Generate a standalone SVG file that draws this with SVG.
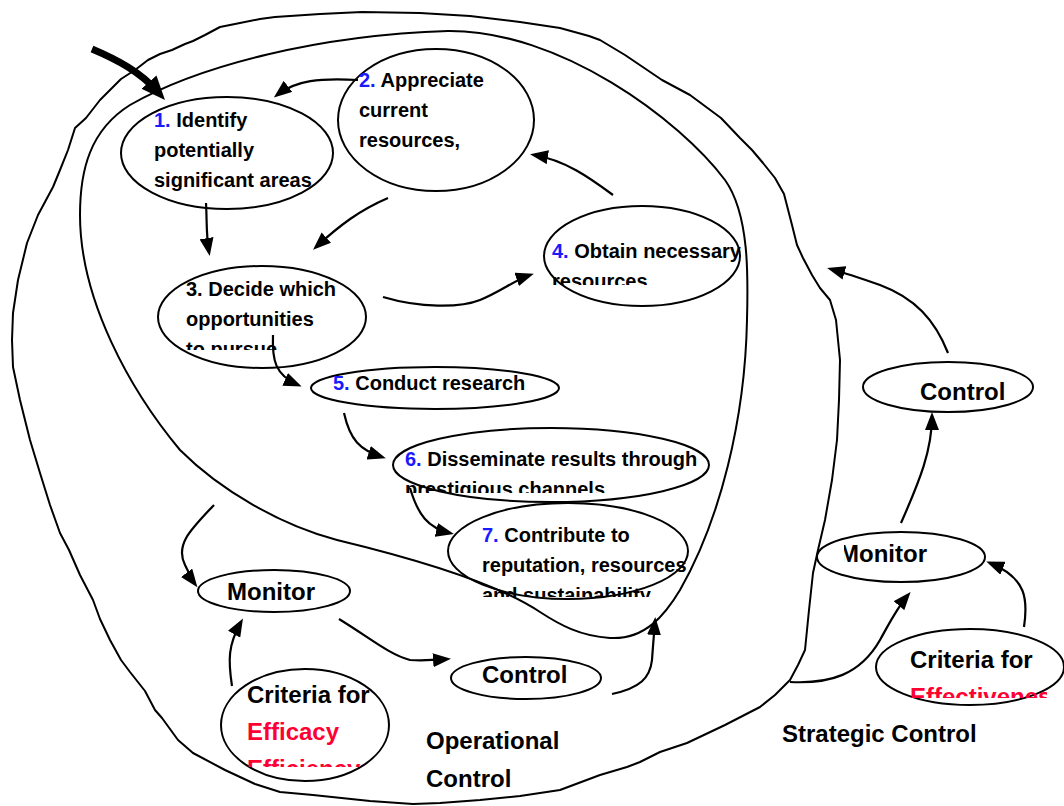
<svg xmlns="http://www.w3.org/2000/svg" width="1064" height="806" viewBox="0 0 1064 806">
<style>
.ln{fill:none;stroke:#000;stroke-width:2;stroke-linejoin:round;stroke-linecap:round}
.el{fill:none;stroke:#000;stroke-width:2}
.t{font-family:"Liberation Sans",Arial,sans-serif;font-weight:bold;font-size:20px;fill:#000}
.big{font-family:"Liberation Sans",Arial,sans-serif;font-weight:bold;font-size:24px;fill:#000}
.num{fill:#1a1aff}
.red{fill:#ff0033}
.ar{fill:none;stroke:#000;stroke-width:2.2;stroke-linecap:butt;marker-end:url(#ah)}
</style>
<defs>
<marker id="ah" viewBox="0 0 18 14" refX="14" refY="7" markerWidth="18" markerHeight="14" markerUnits="userSpaceOnUse" orient="auto"><path d="M0,0 L18,7 L0,14 Z" fill="#000"/></marker>
<marker id="ahbig" viewBox="0 0 24 20" refX="12" refY="10" markerWidth="24" markerHeight="20" markerUnits="userSpaceOnUse" orient="auto"><path d="M0,0 L24,10 L0,20 Z" fill="#000"/></marker>
<clipPath id="c3"><rect x="150" y="260" width="230" height="90"/></clipPath>
<clipPath id="c4"><rect x="540" y="200" width="210" height="85"/></clipPath>
<clipPath id="c6"><rect x="390" y="420" width="330" height="73"/></clipPath>
<clipPath id="c7"><rect x="440" y="500" width="260" height="97"/></clipPath>
<clipPath id="cc1"><rect x="215" y="665" width="180" height="102"/></clipPath>
<clipPath id="cm2"><rect x="844" y="530" width="150" height="60"/></clipPath>
<clipPath id="cc2"><rect x="870" y="625" width="177" height="73"/></clipPath>
</defs>

<g id="boundaries">
<path class="ln" d="M53,187 L60,170 L68,150 L75,128 L86,118 L100,100 L112,88 L121,79 L135,70 L148,60 L160,54 L172,50 L185,44 L193,41 L205,35 L220,27 L235,24 L260,19 L275,17 L320,14 L362,12 L420,13 L470,16 L520,22 L560,28 L589,36 L600,40 L625,55 L662,80 L690,95 L721,118 L740,138 L752,150 L763,163 L775,178 L784,194 L792,225 L797,245 L803,258 L812,275 L820,288 L830,300 L836,320 L840,360 L839,400 L837,440 L832,480 L825,520 L818,550 L813,573 L809,610 L805,650 L798,665 L790,680 L775,695 L760,707 L725,725 L687,743 L660,752 L640,762 L627,767 L600,775 L560,790 L520,796 L480,800 L440,803 L413,804 L370,801 L313,795 L280,792 L255,784 L225,770 L193,753 L178,740 L162,718 L155,710 L145,691 L130,672 L121,660 L110,640 L100,619 L93,600 L80,575 L69,550 L60,533 L50,505 L40,473 L30,440 L20,400 L13,367 L12,340 L13,313 L18,280 L27,243 L38,215 Z"/>
<path class="ln" d="M80,215 C80,170 90,130 130,105 C200,65 320,35 448,31 C560,30 680,120 725,180 C750,215 748,280 747,320 C745,420 720,520 680,590 C665,615 645,640 610,638 C580,636 560,625 540,612 C500,585 420,560 337,540 C280,525 220,490 180,450 C130,390 80,300 80,215 Z"/>
</g>

<g id="connectors">
<path d="M92,49 C118,60 140,72 157,91" fill="none" stroke="#000" stroke-width="7" marker-end="url(#ahbig)"/>
<path class="ar" d="M358,80 C320,78 296,80 277,95"/>
<path class="ar" d="M206,203 C207,220 206,235 209,252"/>
<path class="ar" d="M388,198 C360,210 340,225 316,247"/>
<path class="ar" d="M613,195 C590,178 565,160 534,155"/>
<path class="ar" d="M383,297 C420,308 460,308 480,300 C500,292 515,280 530,275"/>
<path class="ar" d="M273,335 C272,360 275,375 298,385"/>
<path class="ar" d="M344,413 C350,440 360,450 382,457"/>
<path class="ar" d="M410,488 C418,515 428,528 450,533"/>
<path class="ar" d="M214,505 C190,530 175,545 185,565 C190,575 192,580 195,584"/>
<path class="ar" d="M232,686 C228,660 228,645 241,622"/>
<path class="ar" d="M339,619 C370,638 390,655 410,660 C425,661 435,660 447,659" stroke-width="2.6"/>
<path class="ar" d="M612,694 C640,688 650,678 652,660 C653,645 654,635 655,621"/>
<path class="ar" d="M790,682 C830,684 860,675 880,640 C890,622 897,608 908,595" stroke-width="2.6"/>
<path class="ar" d="M1024,627 C1028,600 1027,578 990,563"/>
<path class="ar" d="M901,523 C920,480 932,450 932,416"/>
<path class="ar" d="M948,353 C935,320 915,298 880,285 C860,278 845,273 831,269"/>
</g>

<g id="n1">
<ellipse class="el" cx="227" cy="153" rx="106" ry="56"/>
<text class="t" x="154" y="127"><tspan class="num">1.</tspan> Identify</text>
<text class="t" x="154" y="157">potentially</text>
<text class="t" x="154" y="187">significant areas</text>
</g>
<g id="n2">
<ellipse class="el" cx="436" cy="120" rx="98" ry="71"/>
<text class="t" x="359" y="87"><tspan class="num">2.</tspan> Appreciate</text>
<text class="t" x="359" y="117">current</text>
<text class="t" x="359" y="147">resources,</text>
</g>
<g id="n3">
<ellipse class="el" cx="262" cy="317" rx="104" ry="51"/>
<g clip-path="url(#c3)">
<text class="t" x="186" y="296">3. Decide which</text>
<text class="t" x="186" y="326">opportunities</text>
<text class="t" x="186" y="356">to pursue</text>
</g>
</g>
<g id="n4">
<ellipse class="el" cx="642" cy="256" rx="98" ry="50"/>
<g clip-path="url(#c4)">
<text class="t" x="552" y="258"><tspan class="num">4.</tspan> Obtain necessary</text>
<text class="t" x="552" y="288">resources</text>
</g>
</g>
<g id="n5">
<ellipse class="el" cx="435" cy="388" rx="124" ry="21"/>
<text class="t" x="333" y="390"><tspan class="num">5.</tspan> Conduct research</text>
</g>
<g id="n6">
<ellipse class="el" cx="551" cy="465" rx="158" ry="37"/>
<g clip-path="url(#c6)">
<text class="t" x="405" y="466"><tspan class="num">6.</tspan> Disseminate results through</text>
<text class="t" x="405" y="496">prestigious channels</text>
</g>
</g>
<g id="n7">
<ellipse class="el" cx="568" cy="551" rx="120" ry="48"/>
<g clip-path="url(#c7)">
<text class="t" x="482" y="542"><tspan class="num">7.</tspan> Contribute to</text>
<text class="t" x="482" y="572">reputation, resources</text>
<text class="t" x="482" y="602">and sustainability</text>
</g>
</g>
<g id="op-monitor">
<ellipse class="el" cx="274" cy="591" rx="76" ry="21"/>
<text class="big" x="227" y="600">Monitor</text>
</g>
<g id="op-control">
<ellipse class="el" cx="526" cy="678" rx="75" ry="21"/>
<text class="big" x="482" y="683">Control</text>
</g>
<g id="op-criteria">
<ellipse class="el" cx="305" cy="725" rx="84" ry="56"/>
<g clip-path="url(#cc1)">
<text class="big" x="247" y="703">Criteria for</text>
<text class="big red" x="247" y="740">Efficacy</text>
<text class="big red" x="247" y="777">Efficiency</text>
</g>
</g>
<g id="op-label">
<text class="big" x="426" y="749">Operational</text>
<text class="big" x="426" y="787">Control</text>
</g>
<g id="st-control">
<ellipse class="el" cx="948" cy="387" rx="85" ry="25"/>
<text class="big" x="920" y="400">Control</text>
</g>
<g id="st-monitor">
<ellipse class="el" cx="901" cy="557" rx="84" ry="25"/>
<text class="big" x="839" y="562" clip-path="url(#cm2)">Monitor</text>
</g>
<g id="st-criteria">
<ellipse class="el" cx="970" cy="667" rx="94" ry="38"/>
<g clip-path="url(#cc2)">
<text class="big" x="910" y="668">Criteria for</text>
<text class="big red" x="910" y="705">Effectiveness</text>
</g>
</g>
<g id="st-label">
<text class="big" x="782" y="742">Strategic Control</text>
</g>
</svg>
